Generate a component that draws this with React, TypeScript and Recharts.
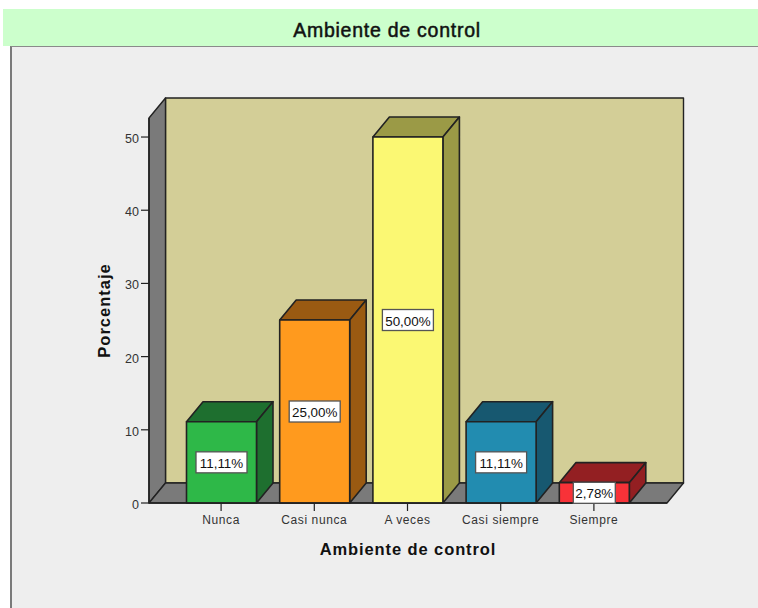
import React from 'react';
import { BarChart, Bar, XAxis, YAxis, LabelList, usePlotArea } from 'recharts';

const categories = ['Nunca', 'Casi nunca', 'A veces', 'Casi siempre', 'Siempre'];
const percentages = [11.11, 25, 50, 11.11, 2.78];
const percentLabels = ['11,11%', '25,00%', '50,00%', '11,11%', '2,78%'];
const yTicks = [0, 10, 20, 30, 40, 50];

const frontColors = ['#2eb848', '#ff9a1e', '#fbf873', '#228cb0', '#f83238'];
const darkColors = ['#1e6f2f', '#9a5a12', '#9b9a46', '#175870', '#931f22'];

const DEPTH_X = 16.5;
const DEPTH_Y = 20;
const LINE = '#222222';
const FONT = '"Liberation Sans", Arial, sans-serif';

const chartData = categories.map((name, i) => ({
  name,
  value: percentages[i],
  label: percentLabels[i],
}));

// walls and floor behind the bars
const Walls = () => {
  const area = usePlotArea();
  if (!area) return null;
  const { x, y, width, height } = area;
  const bottom = y + height;
  const right = x + width;
  return (
    <g stroke={LINE} strokeWidth={1.4} strokeLinejoin="round">
      <rect x={x + DEPTH_X} y={y - DEPTH_Y} width={width} height={height} fill="#d3ce97" />
      <polygon
        points={`${x},${y} ${x + DEPTH_X},${y - DEPTH_Y} ${x + DEPTH_X},${bottom - DEPTH_Y} ${x},${bottom}`}
        fill="#7a7a7a"
      />
      <polygon
        points={`${x},${bottom} ${x + DEPTH_X},${bottom - DEPTH_Y} ${right + DEPTH_X},${bottom - DEPTH_Y} ${right},${bottom}`}
        fill="#7a7a7a"
      />
    </g>
  );
};

const Box3D = (props: any) => {
  const { x, y, width, height, index } = props;
  const r = x + width;
  const b = y + height;
  return (
    <g stroke={LINE} strokeWidth={1.6} strokeLinejoin="round">
      <polygon
        points={`${x},${y} ${x + DEPTH_X},${y - DEPTH_Y} ${r + DEPTH_X},${y - DEPTH_Y} ${r},${y}`}
        fill={darkColors[index]}
      />
      <polygon
        points={`${r},${y} ${r + DEPTH_X},${y - DEPTH_Y} ${r + DEPTH_X},${b - DEPTH_Y} ${r},${b}`}
        fill={darkColors[index]}
      />
      <rect x={x} y={y} width={width} height={height} fill={frontColors[index]} />
    </g>
  );
};

const BoxLabel = (props: any) => {
  const { x, y, width, height, value } = props;
  const boxW = 9 * String(value).length - 3;
  const boxH = 21;
  const cx = x + width / 2;
  const cy = y + height / 2;
  return (
    <g>
      <rect
        x={cx - boxW / 2}
        y={cy - boxH / 2}
        width={boxW}
        height={boxH}
        fill="#ffffff"
        stroke="#555555"
        strokeWidth={1.3}
      />
      <text x={cx} y={cy + 5.5} textAnchor="middle" fontSize={13.4} fontFamily={FONT} fill="#111111">
        {value}
      </text>
    </g>
  );
};

const App = () => {
  return (
    <div style={{ position: 'absolute', left: 0, top: 0, width: 758, height: 608, overflow: 'hidden', background: '#ffffff' }}>
      <div
        style={{
          position: 'absolute',
          left: 3,
          top: 9,
          width: 755,
          height: 37,
          boxSizing: 'border-box',
          paddingLeft: 13,
          background: '#ccffcc',
          textAlign: 'center',
          fontFamily: FONT,
          fontSize: 19.5,
          letterSpacing: 0.75,
          lineHeight: '43px',
          color: '#111111',
          WebkitTextStroke: '0.5px #111111',
        }}
      >
        Ambiente de control
      </div>
      <div
        style={{
          position: 'absolute',
          left: 10,
          top: 46,
          width: 748,
          height: 562,
          boxSizing: 'border-box',
          background: '#eeeeee',
          borderLeft: '2px solid #7a7a7a',
          borderTop: '1px solid #8a8a8a',
        }}
      />
      <div style={{ position: 'absolute', left: 0, top: 0 }}>
        <BarChart
          width={758}
          height={608}
          data={chartData}
          margin={{ top: 118, right: 91, bottom: 0, left: 89 }}
        >
          <Walls />
          <XAxis
            dataKey="name"
            height={105}
            interval={0}
            padding={{ left: 25.5, right: 26.5 }}
            tickSize={8}
            tickMargin={4}
            tick={{ fontSize: 12, fontFamily: FONT, fill: '#333333', letterSpacing: 0.6 }}
            tickLine={{ stroke: LINE, strokeWidth: 1.2 }}
            axisLine={{ stroke: LINE, strokeWidth: 1.6 }}
            label={{
              value: 'Ambiente de control',
              position: 'insideBottom',
              offset: 53,
              style: { fontSize: 16.5, fontWeight: 700, letterSpacing: 0.9, fontFamily: FONT, fill: '#111111' },
            }}
          />
          <YAxis
            width={60}
            domain={[0, 52.6]}
            ticks={yTicks}
            tickSize={8}
            tickMargin={2}
            tick={{ fontSize: 12.5, fontFamily: FONT, fill: '#333333', dy: 1.5 }}
            tickLine={{ stroke: LINE, strokeWidth: 1.2 }}
            axisLine={{ stroke: LINE, strokeWidth: 1.6 }}
            label={{
              value: 'Porcentaje',
              angle: -90,
              position: 'insideLeft',
              offset: 15,
              style: { fontSize: 16.5, fontWeight: 700, letterSpacing: 1, fontFamily: FONT, fill: '#111111', textAnchor: 'middle' },
            }}
          />
          <Bar dataKey="value" barSize={70} shape={Box3D} isAnimationActive={false}>
            <LabelList dataKey="label" content={BoxLabel} />
          </Bar>
        </BarChart>
      </div>
    </div>
  );
};

export default App;
